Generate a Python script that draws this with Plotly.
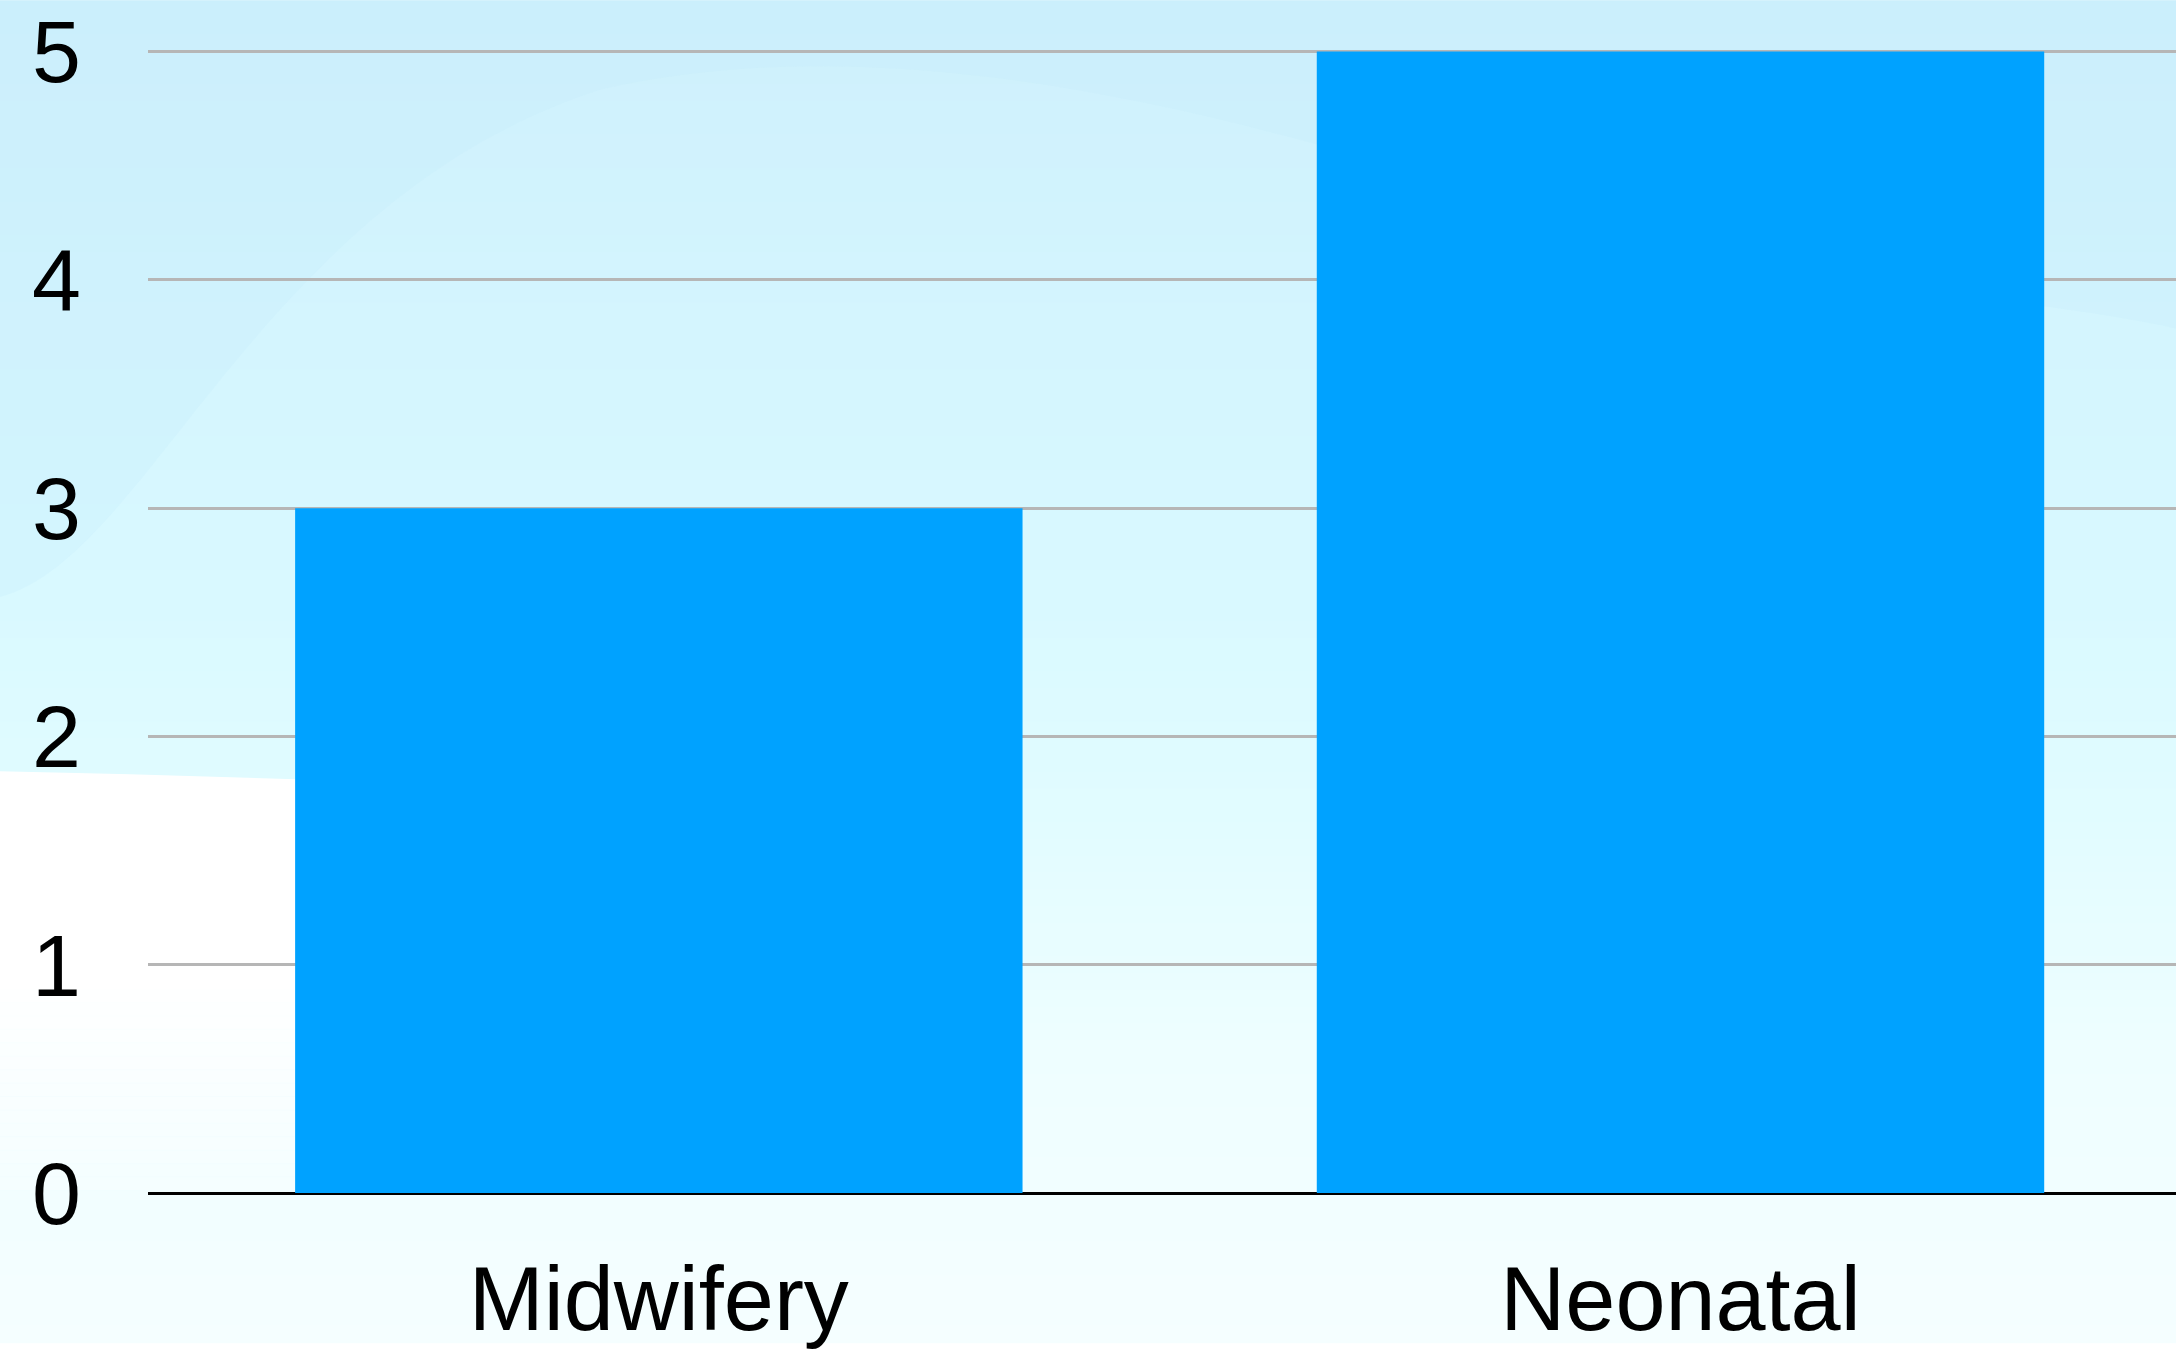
import plotly.graph_objects as go

# Chart data
categories = ["Midwifery", "Neonatal"]
values = [3, 5]
y_ticks = [0, 1, 2, 3, 4, 5]

W, H = 2176, 1349
Y_TOP = 5.02
M_L, M_R, M_B = 148, 0, 150
UNIT_PX = 229.5
M_T = H - M_B - round(UNIT_PX * Y_TOP)
PLOT_W = W - M_L - M_R
PLOT_H = H - M_T - M_B

BAR_COLOR = "#00A2FF"
GRID_COLOR = "#B6B6B6"


def px_to_paper(x, y):
    return (x - M_L) / PLOT_W, (H - M_B - y) / PLOT_H


def pt(x, y):
    return "%f,%f" % px_to_paper(x, y)


def lerp_color(stops, t):
    for (t0, c0), (t1, c1) in zip(stops, stops[1:]):
        if t0 <= t <= t1:
            f = 0 if t1 == t0 else (t - t0) / (t1 - t0)
            return "rgb(%d,%d,%d)" % tuple(round(a + (b - a) * f) for a, b in zip(c0, c1))
    return "rgb(%d,%d,%d)" % stops[-1][1]


# soft sky-blue backdrop, light at the bottom
sky = [
    (0.00, (206, 240, 252)),
    (0.25, (212, 245, 254)),
    (0.45, (217, 249, 255)),
    (0.62, (226, 252, 255)),
    (0.78, (238, 254, 255)),
    (1.00, (245, 254, 255)),
]
shapes = []
n_bands = 80
for i in range(n_bands):
    y0p = H * i / n_bands
    y1p = H * (i + 1) / n_bands + 1
    x0, y0 = px_to_paper(0, y0p)
    x1, y1 = px_to_paper(W, y1p)
    shapes.append(dict(type="rect", xref="paper", yref="paper",
                       x0=x0, x1=x1, y0=y1, y1=y0, line_width=0,
                       fillcolor=lerp_color(sky, (i + 0.5) / n_bands), layer="below"))

# slightly deeper blue sweep along the top, bounded by a soft curve
path = ("M " + pt(0, 0) + " L " + pt(0, 600)
        + " C " + pt(150, 560) + " " + pt(260, 200) + " " + pt(600, 90)
        + " C " + pt(900, 20) + " " + pt(1250, 120) + " " + pt(1500, 200)
        + " C " + pt(1800, 290) + " " + pt(2050, 300) + " " + pt(2176, 330)
        + " L " + pt(2176, 0) + " Z")
shapes.append(dict(type="path", xref="paper", yref="paper", path=path, line_width=0,
                   fillcolor="rgba(196,234,250,0.25)", layer="below"))

# white panel at the lower left, fading into the pale backdrop near the axis
white = [(0, 775), (130, 778), (296, 783), (296, 1196), (0, 1196)]
path = "M " + " L ".join(pt(x, y) for x, y in white) + " Z"
shapes.append(dict(type="path", xref="paper", yref="paper", path=path, line_width=0,
                   fillcolor="rgb(255,255,255)", layer="below"))
n_fade = 16
for i in range(n_fade):
    y0p = 980 + (1196 - 980) * i / n_fade
    y1p = 980 + (1196 - 980) * (i + 1) / n_fade + 1
    x0, y0 = px_to_paper(0, y0p)
    x1, y1 = px_to_paper(296, min(y1p, 1196))
    a = 0.7 * (i + 0.5) / n_fade
    shapes.append(dict(type="rect", xref="paper", yref="paper", x0=x0, x1=x1, y0=y1, y1=y0,
                       line_width=0, fillcolor="rgba(240,253,255,%.3f)" % a, layer="below"))

fig = go.Figure(
    go.Bar(x=categories, y=values, marker_color=BAR_COLOR, marker_line_width=0)
)

fig.update_layout(
    width=W, height=H,
    margin=dict(l=M_L, r=M_R, t=M_T, b=M_B, pad=0),
    paper_bgcolor="rgba(0,0,0,0)",
    plot_bgcolor="rgba(0,0,0,0)",
    bargap=0.288,
    showlegend=False,
    shapes=shapes,
    font=dict(family="Liberation Sans, Arial, Helvetica, sans-serif", color="#000000"),
)

fig.update_xaxes(
    range=[-0.5, 1.485],
    showgrid=False,
    showline=False,
    ticks="",
    tickfont=dict(size=90),
    ticklabelstandoff=46,
)

fig.update_yaxes(
    range=[0, Y_TOP],
    tickvals=y_ticks,
    ticktext=[str(v) for v in y_ticks],
    showgrid=True,
    gridcolor=GRID_COLOR,
    gridwidth=3,
    zeroline=True,
    zerolinecolor="#000000",
    zerolinewidth=3,
    showline=False,
    ticks="",
    tickfont=dict(size=88),
    ticklabelstandoff=66,
)

fig.write_html("out.html")
